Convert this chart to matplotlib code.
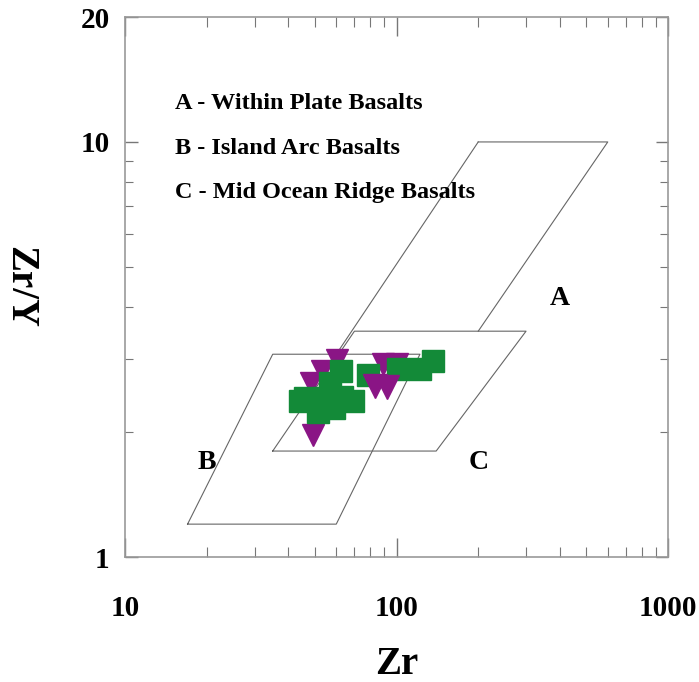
import matplotlib
matplotlib.use("Agg")
import matplotlib.pyplot as plt
from matplotlib.ticker import LogLocator, NullFormatter, FixedLocator, FixedFormatter

# ---- data ----
# Field boundaries (Zr, Zr/Y), Pearce & Norry (1979)
field_A_x = [60, 200, 600, 200]
field_A_y = [3.08, 10, 10, 3.5]
field_B_x = [17, 60, 122, 35, 17]
field_B_y = [1.2, 1.2, 3.08, 3.08, 1.2]
field_C_x = [35, 140, 300, 70, 35]
field_C_y = [1.8, 1.8, 3.5, 3.5, 1.8]

field_labels = ["A", "B", "C"]
field_label_x = [400, 20, 200]
field_label_y = [4.2, 1.69, 1.69]

legend_lines = ["A - Within Plate Basalts",
                "B - Island Arc Basalts",
                "C - Mid Ocean Ridge Basalts"]
legend_y = [12.4, 9.65, 7.55]
legend_x = 15.3

# purple triangles (drawn beneath squares)
tri_under_zr = [60.5, 53.2, 48.4, 49.4, 89.4, 100.2]
tri_under_ratio = [2.98, 2.80, 2.62, 1.97, 2.91, 2.91]
# green squares
sq_zr = [62.3, 46.0, 54.1, 63.0, 69.0, 51.4, 58.9, 78.5, 101.3, 122.0, 136.3, 44.1, 56.9]
sq_ratio = [2.80, 2.42, 2.42, 2.43, 2.37, 2.24, 2.29, 2.75, 2.84, 2.84, 2.97, 2.38, 2.62]
# purple triangles (drawn on top)
tri_over_zr = [83.3, 92.2]
tri_over_ratio = [2.58, 2.57]

xticks = [10, 100, 1000]
xtick_labels = ["10", "100", "1000"]
yticks = [1, 10, 20]
ytick_labels = ["1", "10", "20"]

# ---- figure ----
fig = plt.figure(figsize=(6.99, 6.82), dpi=100)
fig.patch.set_facecolor("white")
ax = fig.add_axes([125/699, 1 - 557/682, 543/699, 540/682])
ax.set_xscale("log")
ax.set_yscale("log")
ax.set_xlim(10, 1000)
ax.set_ylim(1, 20)

serif = ["Liberation Serif", "DejaVu Serif"]
lc = "#666666"

ax.plot(field_A_x[:2], field_A_y[:2], color=lc, lw=0.8)
ax.plot(field_A_x[1:], field_A_y[1:], color=lc, lw=0.8)
ax.plot(field_B_x, field_B_y, color=lc, lw=0.8)
ax.plot(field_C_x, field_C_y, color=lc, lw=0.8)

purple = "#8a1585"
green = "#138a38"
ax.plot(tri_under_zr, tri_under_ratio, linestyle="none", marker="v", ms=16,
        color=purple, mec=purple, zorder=3)
ax.plot(sq_zr, sq_ratio, linestyle="none", marker="s", ms=16,
        color=green, mec=green, zorder=4)
ax.plot(tri_over_zr, tri_over_ratio, linestyle="none", marker="v", ms=17,
        color=purple, mec=purple, zorder=5)

for lab, x, y in zip(field_labels, field_label_x, field_label_y):
    ax.text(x, y, lab, family=serif, weight="bold", fontsize=20,
            ha="center", va="center")
for txt, y in zip(legend_lines, legend_y):
    ax.text(legend_x, y, txt, family=serif, weight="bold", fontsize=17.5,
            ha="left", va="center")

# ticks
ax.xaxis.set_major_locator(FixedLocator(xticks))
ax.xaxis.set_major_formatter(FixedFormatter(xtick_labels))
ax.xaxis.set_minor_locator(LogLocator(base=10, subs=range(2, 10)))
ax.xaxis.set_minor_formatter(NullFormatter())
ax.yaxis.set_major_locator(FixedLocator(yticks))
ax.yaxis.set_major_formatter(FixedFormatter(ytick_labels))
ax.yaxis.set_minor_locator(LogLocator(base=10, subs=range(2, 10)))
ax.yaxis.set_minor_formatter(NullFormatter())

tc = "#777777"
ax.tick_params(axis="x", which="major", direction="in", top=True, bottom=True,
               length=14, width=1, color=tc, pad=27)
ax.tick_params(axis="x", which="minor", direction="in", top=True, bottom=True,
               length=7, width=0.8, color=tc)
ax.tick_params(axis="y", which="major", direction="in", left=True, right=True,
               length=9, width=1, color=tc, pad=11)
ax.tick_params(axis="y", which="minor", direction="in", left=True, right=True,
               length=6, width=0.8, color=tc)
for lab in ax.get_xticklabels() + ax.get_yticklabels():
    lab.set_family(serif)
    lab.set_weight("bold")
    lab.set_fontsize(21)

for s in ax.spines.values():
    s.set_color("#999999")
    s.set_linewidth(1.2)

ax.set_xlabel("Zr", family=serif, weight="bold", fontsize=28, labelpad=18)
ax.set_ylabel("Zr/Y", family=serif, weight="bold", fontsize=28, rotation=270,
              labelpad=44, va="center")

fig.savefig("out.png", dpi=100, facecolor="white")
